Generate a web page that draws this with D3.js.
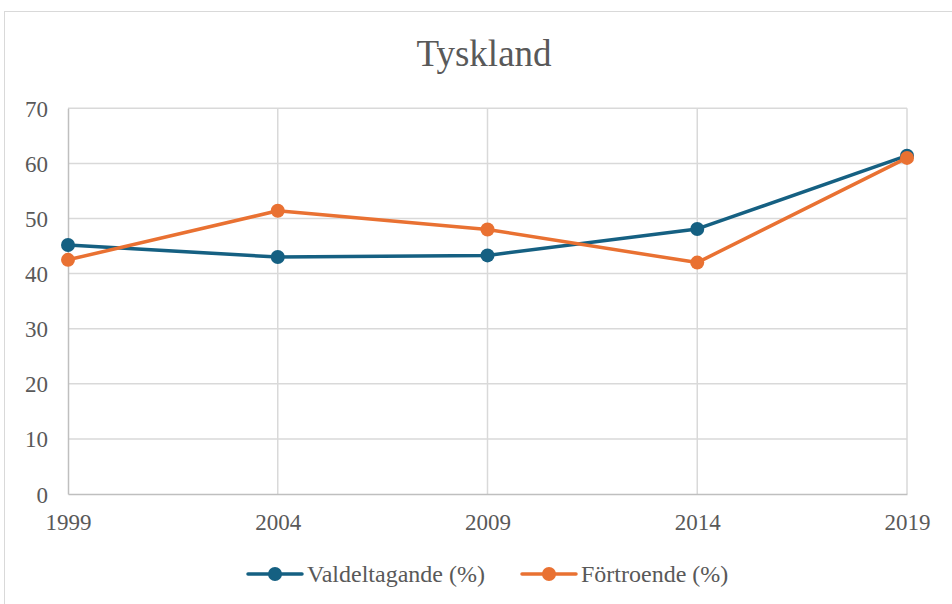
<!DOCTYPE html>
<html><head><meta charset="utf-8">
<script src="https://cdn.jsdelivr.net/npm/d3@7"></script>
<style>body{margin:0;background:#fff}svg{display:block}</style>
</head><body>
<svg id="c" width="952" height="604"></svg>
<script>
const years = [1999, 2004, 2009, 2014, 2019];
const valdeltagande = [45.2, 43.0, 43.3, 48.1, 61.4];
const fortroende = [42.5, 51.4, 48.0, 42.0, 61.0];
const seriesNames = ["Valdeltagande (%)", "Förtroende (%)"];
const yTicks = [0, 10, 20, 30, 40, 50, 60, 70];
const colors = ["#156082", "#E97132"];

const svg = d3.select("#c");
const font = "'Liberation Serif','Times New Roman',serif";
const txt = "#595959";

svg.append("rect").attr("x",4.5).attr("y",11.5).attr("width",1000).attr("height",700)
  .attr("fill","#fff").attr("stroke","#d9d9d9").attr("stroke-width",1);

const L=68, R=907, T=108.3, B=494;
const x = d3.scalePoint().domain(years).range([L,R]);
const y = d3.scaleLinear().domain([0,70]).range([B,T]);

svg.append("text").attr("x",484).attr("y",66).attr("text-anchor","middle")
  .style("font-family",font).style("font-size","37px").attr("fill",txt).text("Tyskland");

// gridlines
const g = svg.append("g");
g.selectAll(".hg").data(yTicks.filter(d=>d>0)).join("line")
  .attr("x1",L).attr("x2",R).attr("y1",d=>y(d)).attr("y2",d=>y(d))
  .attr("stroke","#d9d9d9").attr("stroke-width",1.5);
g.selectAll(".vg").data(years.slice(1)).join("line")
  .attr("x1",d=>x(d)).attr("x2",d=>x(d)).attr("y1",T).attr("y2",B)
  .attr("stroke","#d9d9d9").attr("stroke-width",1.5);

// axes
const yAxis = d3.axisLeft(y).tickValues(yTicks).tickSize(0).tickPadding(20);
const ya = svg.append("g").attr("transform",`translate(${L},0)`).call(yAxis)
  .attr("font-family",null).attr("font-size",null);
ya.select(".domain").attr("stroke","#bfbfbf").attr("stroke-width",1.5);
ya.selectAll("text").style("font-family",font).style("font-size","23px").attr("fill",txt).attr("dy","0.35em");

const xAxis = d3.axisBottom(x).tickSize(0).tickPadding(20);
const xa = svg.append("g").attr("transform",`translate(0,${B})`).call(xAxis)
  .attr("font-family",null).attr("font-size",null);
xa.select(".domain").attr("stroke","#bfbfbf").attr("stroke-width",1.5);
xa.selectAll("text").style("font-family",font).style("font-size","23px").attr("fill",txt);

// lines
const data = [valdeltagande, fortroende];
const line = d3.line().x((d,i)=>x(years[i])).y(d=>y(d));
data.forEach((s,k)=>{
  svg.append("path").datum(s).attr("d",line).attr("fill","none")
    .attr("stroke",colors[k]).attr("stroke-width",3.5).attr("stroke-linejoin","round");
  svg.selectAll(".m"+k).data(s).join("circle")
    .attr("cx",(d,i)=>x(years[i])).attr("cy",d=>y(d)).attr("r",7).attr("fill",colors[k]);
});

// legend
const legX = [248, 522];
const ly = 574;
seriesNames.forEach((n,k)=>{
  const lg = svg.append("g");
  lg.append("line").attr("x1",legX[k]).attr("x2",legX[k]+54).attr("y1",ly).attr("y2",ly)
    .attr("stroke",colors[k]).attr("stroke-width",3.5).attr("stroke-linecap","round");
  lg.append("circle").attr("cx",legX[k]+27).attr("cy",ly).attr("r",7).attr("fill",colors[k]);
  lg.append("text").attr("x",legX[k]+59).attr("y",ly).attr("dy","0.35em")
    .style("font-family",font).style("font-size","24px").attr("fill",txt).text(n);
});
</script>
</body></html>
